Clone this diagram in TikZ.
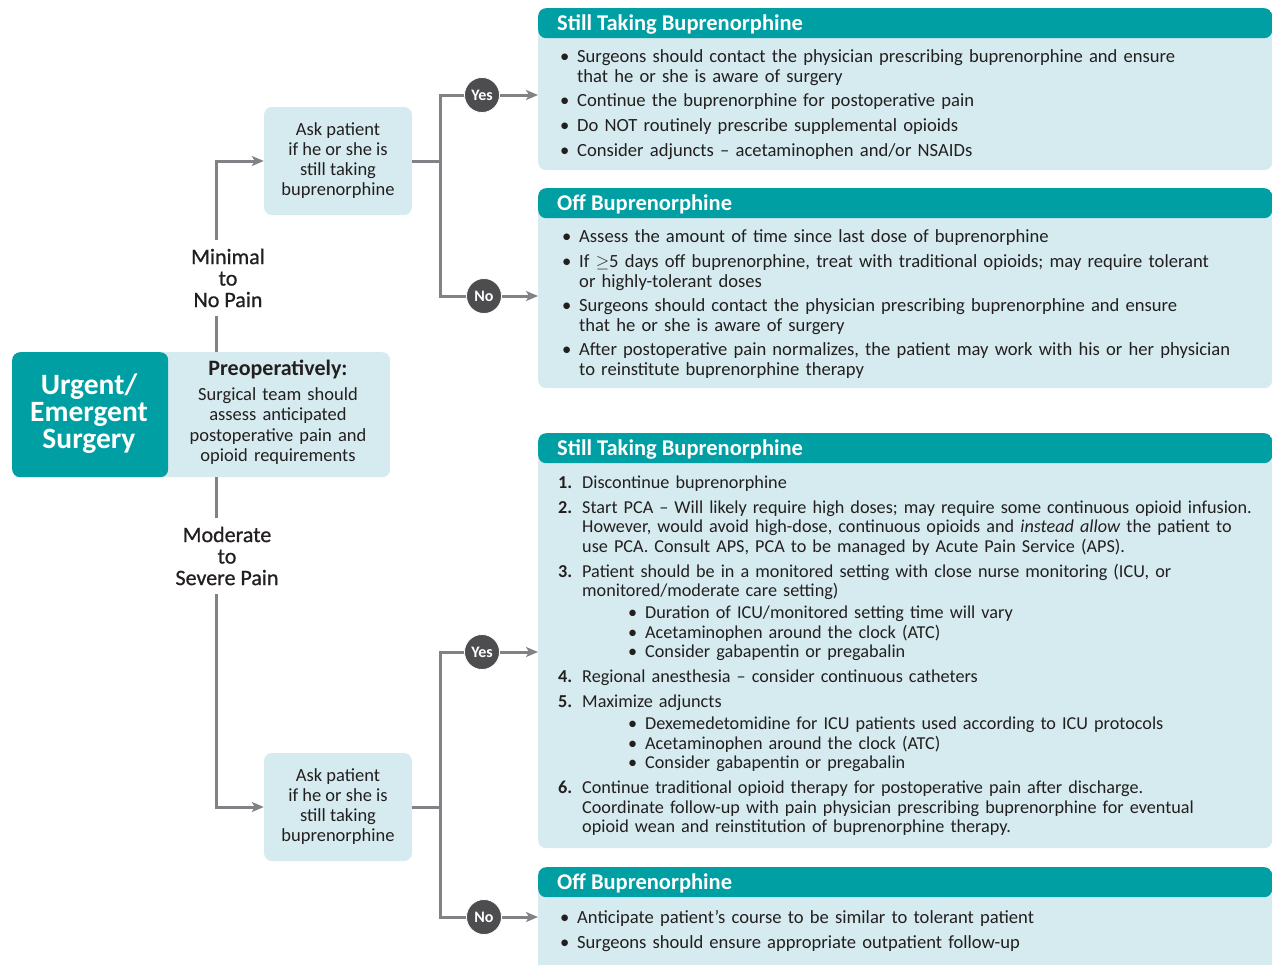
\documentclass[tikz,border=0pt]{standalone}
\usepackage{fontspec}
\setmainfont{Carlito}
\newfontfamily\medfont[FakeBold=0.8]{Carlito}
\usetikzlibrary{arrows.meta,calc}
\definecolor{hdr}{HTML}{009FA4}
\definecolor{lbox}{HTML}{D5EBEF}
\definecolor{txt}{HTML}{231F20}
\definecolor{conncol}{HTML}{808285}
\definecolor{circ}{HTML}{4D4D4F}
\newcommand{\bul}{\makebox[17pt][l]{•}}
\newcommand{\ind}{\hspace*{17pt}}
\newcommand{\num}[1]{\makebox[24pt][l]{\bfseries #1}}
\newcommand{\nind}{\hspace*{24pt}}
\newcommand{\sbul}{\hspace*{70pt}\makebox[17pt][l]{•}}
\tikzset{
  panel/.style={fill=lbox, rounded corners=8pt, minimum width=734pt, anchor=north west, inner sep=0pt,
    path picture={\fill[hdr] (path picture bounding box.north west) rectangle ([yshift=-30pt]path picture bounding box.north east);}},
  hdrtext/.style={anchor=base west, inner sep=0pt, text=white, font=\bfseries\fontsize{22.5}{24}\selectfont},
  body/.style={anchor=base west, inner sep=0pt, text=txt, text width=710pt, align=left, font=\fontsize{18.6}{20}\selectfont},
  askbox/.style={fill=lbox, rounded corners=8pt, minimum width=148pt, minimum height=108pt, inner sep=0pt, align=center, text=txt, font=\fontsize{18.5}{20}\selectfont},
  painlab/.style={align=center, inner xsep=2pt, inner ysep=9pt, text=txt, font=\medfont\fontsize{22}{21.5}\selectfont},
  yn/.style={circle, fill=circ, draw=white, line width=0.8pt, minimum size=35pt, inner sep=0pt, text=white, font=\bfseries\fontsize{16}{16}\selectfont},
  conn/.style={draw=conncol, line width=3pt},
  arr/.style={conn, -{Stealth[length=12pt,width=10pt,inset=3pt]}},
}
\begin{document}
\begin{tikzpicture}[x=1pt,y=-1pt]
\useasboundingbox (0,0) rectangle (1274,964);
\clip (0,0) rectangle (1274,964);

% right panels
\node[panel, minimum height=162pt] (b1) at (538,8) {};
\node[panel, minimum height=200pt] (b2) at (538,188) {};
\node[panel, minimum height=415pt] (b3) at (538,433) {};
\node[panel, minimum height=110pt] (b4) at (538,867) {};

\node[hdrtext] (h1) at (557,30) {Still Taking Buprenorphine};
\node[hdrtext] (h2) at (557,210) {Off Buprenorphine};
\node[hdrtext] (h3) at (557,455) {Still Taking Buprenorphine};
\node[hdrtext] (h4) at (557,889) {Off Buprenorphine};

\node[body] (t1) at (560,62) {%
\bul Surgeons should contact the physician prescribing buprenorphine and ensure\\
\ind that he or she is aware of surgery\\[4.5pt]
\bul Continue the buprenorphine for postoperative pain\\[5pt]
\bul Do NOT routinely prescribe supplemental opioids\\[5pt]
\bul Consider adjuncts – acetaminophen and/or NSAIDs};

\node[body] (t2) at (562,242) {%
\bul Assess the amount of time since last dose of buprenorphine\\[5pt]
\bul If \ensuremath{\geq}5 days off buprenorphine, treat with traditional opioids; may require tolerant\\
\ind or highly-tolerant doses\\[4pt]
\bul Surgeons should contact the physician prescribing buprenorphine and ensure\\
\ind that he or she is aware of surgery\\[4pt]
\bul After postoperative pain normalizes, the patient may work with his or her physician\\
\ind to reinstitute buprenorphine therapy};

\node[body, font=\fontsize{18.2}{19.5}\selectfont] (t3) at (558,488) {%
\num{1.}Discontinue buprenorphine\\[5.5pt]
\num{2.}Start PCA – Will likely require high doses; may require some continuous opioid infusion.\\
\nind However, would avoid high-dose, continuous opioids and \textit{instead allow} the patient to\\
\nind use PCA. Consult APS, PCA to be managed by Acute Pain Service (APS).\\[5.5pt]
\num{3.}Patient should be in a monitored setting with close nurse monitoring (ICU, or\\
\nind monitored/moderate care setting)\\[2.5pt]
\sbul Duration of ICU/monitored setting time will vary\\
\sbul Acetaminophen around the clock (ATC)\\
\sbul Consider gabapentin or pregabalin\\[5.5pt]
\num{4.}Regional anesthesia – consider continuous catheters\\[5.5pt]
\num{5.}Maximize adjuncts\\[2.5pt]
\sbul Dexemedetomidine for ICU patients used according to ICU protocols\\
\sbul Acetaminophen around the clock (ATC)\\
\sbul Consider gabapentin or pregabalin\\[5.5pt]
\num{6.}Continue traditional opioid therapy for postoperative pain after discharge.\\
\nind Coordinate follow-up with pain physician prescribing buprenorphine for eventual\\
\nind opioid wean and reinstitution of buprenorphine therapy.};

\node[body] (t4) at (560,923) {%
\bul Anticipate patient’s course to be similar to tolerant patient\\[5pt]
\bul Surgeons should ensure appropriate outpatient follow-up};

% left side
\node[fill=lbox, rounded corners=8pt, minimum width=378pt, minimum height=125pt, anchor=north west, inner sep=0pt,
  path picture={\fill[hdr] (path picture bounding box.north west) rectangle ([xshift=156pt]path picture bounding box.south west);}] (urg) at (12,352) {};
\node[align=center, text=white, inner sep=0pt, font=\bfseries\fontsize{29.5}{27}\selectfont] (urgt) at (89,414) {Urgent/\\Emergent\\Surgery};
\node[anchor=base, text width=220pt, align=center, text=txt, inner sep=0pt, font=\fontsize{18.5}{20.5}\selectfont] (pret) at (278,375)
  {{\bfseries\fontsize{22}{20.5}\selectfont Preoperatively:}\\[4.5pt]
   Surgical team should\\ assess anticipated\\ postoperative pain and\\ opioid requirements};

\node[askbox] (a1) at (338,161) {Ask patient\\if he or she is\\still taking\\buprenorphine};
\node[askbox] (a2) at (338,807) {Ask patient\\if he or she is\\still taking\\buprenorphine};

\node[painlab] (lab1) at (228,278) {Minimal\\to\\No Pain};
\node[painlab] (lab2) at (227,556) {Moderate\\to\\Severe Pain};

% connectors
\coordinate (s1) at ([xshift=204pt]urg.north west);
\coordinate (s2) at ([xshift=204pt]urg.south west);
\draw[conn] (s1) -- (s1 |- lab1.south);
\draw[arr] (s1 |- lab1.north) |- (a1.west);
\draw[conn] (s2) -- (s2 |- lab2.north);
\draw[arr] (s2 |- lab2.south) |- (a2.west);

\coordinate (j1) at ([xshift=28pt]a1.east);
\coordinate (j2) at ([xshift=28pt]a2.east);
\coordinate (y1c) at (482,95);
\coordinate (n1c) at (484,296);
\coordinate (y2c) at (482,652);
\coordinate (n2c) at (484,917);
\draw[conn] (a1.east) -- (j1);
\draw[conn] (y1c) -| (j1) |- (n1c);
\draw[conn] (a2.east) -- (j2);
\draw[conn] (y2c) -| (j2) |- (n2c);
\node[yn] (y1) at (y1c) {Yes};
\node[yn] (n1) at (n1c) {No};
\node[yn] (y2) at (y2c) {Yes};
\node[yn] (n2) at (n2c) {No};
\draw[arr] (y1.east) -- (b1.west |- y1.east);
\draw[arr] (n1.east) -- (b2.west |- n1.east);
\draw[arr] (y2.east) -- (b3.west |- y2.east);
\draw[arr] (n2.east) -- (b4.west |- n2.east);
\end{tikzpicture}
\end{document}
